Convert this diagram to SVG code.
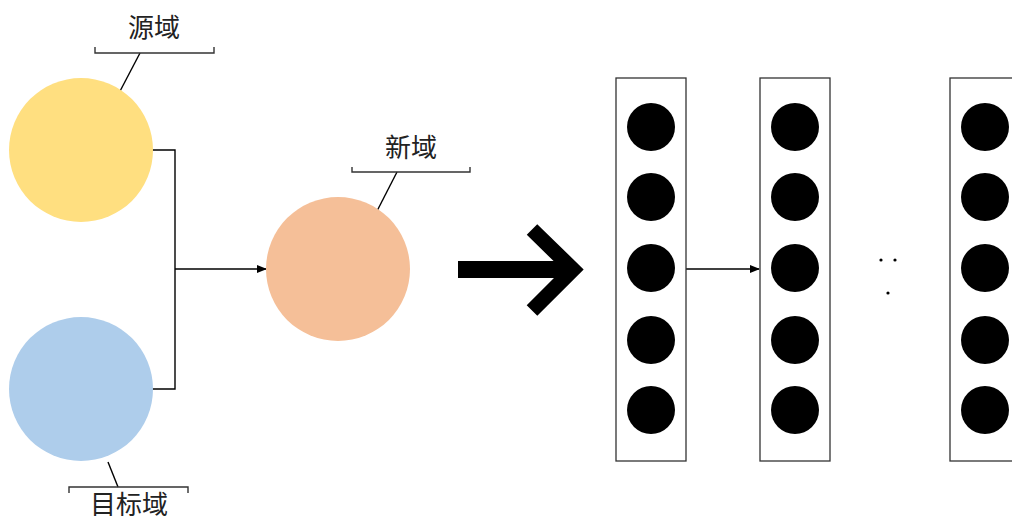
<svg xmlns="http://www.w3.org/2000/svg" width="1012" height="519" viewBox="0 0 1012 519">
<style>
.lbl{font-family:"Noto Sans CJK SC","Noto Sans",sans-serif;font-size:26px;fill:#222;text-anchor:middle}
.ln{fill:none;stroke:#000;stroke-width:1.4}
.br{fill:none;stroke:#333;stroke-width:1.4}
.box{fill:#fff;stroke:#333;stroke-width:1.3}
.dot{fill:#000}
</style>
<defs>
<marker id="ah" markerWidth="10" markerHeight="8" refX="9" refY="4" orient="auto" markerUnits="userSpaceOnUse">
<path d="M0,0 L10,4 L0,8 Z" fill="#000"/>
</marker>
</defs>
<g id="connectors">
<path class="ln" d="M152,150 H175 V389 H152"/>
<path class="ln" d="M175,269 H266" marker-end="url(#ah)"/>
<path class="ln" d="M686,269 H759" marker-end="url(#ah)"/>
<path class="ln" d="M140,53 L118,95"/>
<path class="ln" d="M397,172 L376,213"/>
<path class="ln" d="M108,462 L118,487"/>
</g>
<g id="source">
<circle cx="81" cy="150" r="72" fill="#FFDF80"/>
<path class="br" d="M95,47 V53 H214 V47"/>
<text class="lbl" x="154" y="37">源域</text>
</g>
<g id="target">
<circle cx="81" cy="389" r="72" fill="#AECDEB"/>
<path class="br" d="M69,493 V487 H188 V493"/>
<text class="lbl" x="129" y="514">目标域</text>
</g>
<g id="newdomain">
<circle cx="338" cy="269" r="72" fill="#F5BF98"/>
<path class="br" d="M352,167 V172 H470 V167"/>
<text class="lbl" x="411" y="157">新域</text>
</g>
<g id="bigarrow">
<rect x="458" y="261" width="107" height="17" fill="#000"/>
<polyline points="532,229.5 573,269.5 532,310.5" fill="none" stroke="#000" stroke-width="15" stroke-linejoin="miter" stroke-miterlimit="10"/>
</g>
<g id="layer1">
<rect class="box" x="616" y="78" width="70" height="383"/>
<circle class="dot" cx="651" cy="127" r="24"/>
<circle class="dot" cx="651" cy="197" r="24"/>
<circle class="dot" cx="651" cy="268" r="24"/>
<circle class="dot" cx="651" cy="340" r="24"/>
<circle class="dot" cx="651" cy="410" r="24"/>
</g>
<g id="layer2">
<rect class="box" x="760" y="78" width="70" height="383"/>
<circle class="dot" cx="795" cy="127" r="24"/>
<circle class="dot" cx="795" cy="197" r="24"/>
<circle class="dot" cx="795" cy="268" r="24"/>
<circle class="dot" cx="795" cy="340" r="24"/>
<circle class="dot" cx="795" cy="410" r="24"/>
</g>
<g id="ellipsis">
<circle class="dot" cx="881" cy="260" r="1.6"/>
<circle class="dot" cx="895" cy="260" r="1.6"/>
<circle class="dot" cx="888" cy="293" r="1.6"/>
</g>
<g id="layer3">
<rect class="box" x="950" y="78" width="70" height="383"/>
<circle class="dot" cx="985" cy="127" r="24"/>
<circle class="dot" cx="985" cy="197" r="24"/>
<circle class="dot" cx="985" cy="268" r="24"/>
<circle class="dot" cx="985" cy="340" r="24"/>
<circle class="dot" cx="985" cy="410" r="24"/>
</g>
</svg>
